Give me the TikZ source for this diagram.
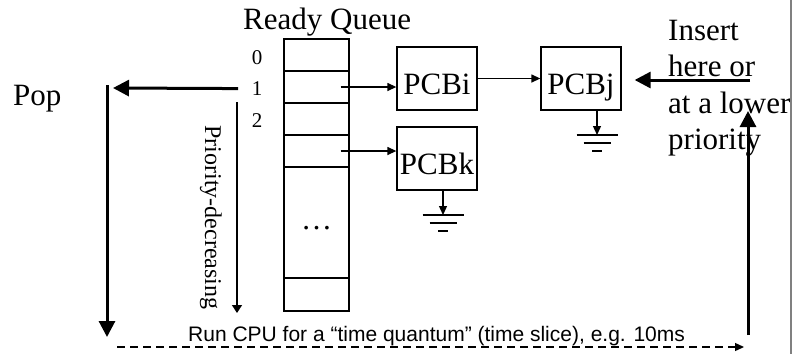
\documentclass[tikz,border=0pt]{standalone}
\usepackage{fontspec}
\setmainfont{Liberation Serif}
\setsansfont{Liberation Sans}
\usetikzlibrary{arrows.meta, positioning}

\begin{document}
\begin{tikzpicture}[
  x=1pt, y=-1pt,
  big/.style={font=\fontsize{31}{36}\selectfont, inner sep=0pt},
  num/.style={font=\fontsize{21}{24}\selectfont, inner sep=0pt, anchor=base},
  cell/.style={draw, line width=1.3pt, minimum width=65pt, inner sep=0pt},
  pcb/.style={draw, line width=1.3pt, minimum width=80pt, minimum height=63pt,
              inner sep=0pt, text height=31pt, text depth=0pt,
              font=\fontsize{31}{36}\selectfont},
  link/.style={line width=1.3pt, -{Triangle[length=9pt,width=8pt]}},
  fatarrow/.style={line width=3pt, -{Triangle[length=16pt,width=16pt]}},
  gnd/.style={line width=1.3pt},
]
\useasboundingbox (0,0) rectangle (794,354);

% ----- ready queue -----
\node[big, anchor=base west] (title) at (243,29) {Ready Queue};
\foreach \i in {0,...,3}
  \node[cell, minimum height=32pt] (q\i) at (316.5,55+32*\i) {};
\node[cell, minimum height=111pt] (q4) at (316.5,222.5) {};
\node[cell, minimum height=33pt] (q5) at (316.5,294.5) {};
\node[big, anchor=base] (dots) at (316.5,229) {…};
\foreach \d in {0,1,2}
  \node[num] (n\d) at (257,64+31.5*\d) {\d};

% ----- PCB chain -----
\node[pcb] (pcbi) at (437,78.5) {PCBi};
\node[pcb] (pcbj) at (581,78.5) {PCBj};
\node[pcb] (pcbk) at (437,158.5) {PCBk};
\draw[link] ([xshift=-9pt]q1.east) -- (q1.east -| pcbi.west);
\draw[link] ([xshift=-9pt]q3.east) -- (q3.east -| pcbk.west);
\draw[link] (pcbi.east) -- (pcbj.west);

\coordinate (gj) at (597,135);
\coordinate (gk) at (443,215);
\foreach \g/\b in {gj/pcbj, gk/pcbk} {
  \draw[link] (\b.south -| \g) -- (\g);
  \draw[gnd] ([xshift=-20.5pt]\g) -- ([xshift=20.5pt]\g)
             ([shift={(-13.5,8)}]\g) -- ([shift={(13.5,8)}]\g)
             ([shift={(-5,16)}]\g) -- ([shift={(5,16)}]\g);
}

% ----- pop side -----
\node[big, anchor=base west] (pop) at (13,105) {Pop};
\coordinate (popto) at (113,88);
\coordinate (downtop) at (107,85);
\coordinate (downend) at (107,337);
\draw[fatarrow] ([xshift=-13.5pt]n1.west) -- (popto);
\draw[fatarrow] (downtop) -- (downend);

\node[font=\fontsize{24}{28}\selectfont, rotate=-90, anchor=base, inner sep=0pt]
  (prio) at (205,217.5) {Priority-decreasing};
\coordinate (priotop) at (237,102);
\coordinate (prioend) at (237,313);
\draw[line width=1.3pt, -{Triangle[length=8pt,width=10pt]}] (priotop) -- (prioend);

% ----- time slice and insert -----
\node[font=\sffamily\fontsize{21}{24}\selectfont, anchor=base west, inner sep=0pt]
  (runcpu) at (188,341) {Run CPU for a “time quantum” (time slice), e.g. 10ms};
\coordinate (dashfrom) at (117,347);
\coordinate (dashto) at (744,347);
\draw[link, dash pattern=on 8pt off 5pt] (dashfrom) -- (dashto);

\foreach \t [count=\k] in {Insert, here or, at a lower, priority}
  \node[big, anchor=base west] (ins\k) at (668,3.5+36.5*\k) {\t};
\coordinate (upfrom) at (748,335);
\coordinate (upto) at (748,111);
\coordinate (insfrom) at (750,80);
\draw[fatarrow] (upfrom) -- (upto);
\draw[fatarrow] (insfrom) -- ([xshift=13pt]pcbj.east |- insfrom);

\draw[gray, line width=1.2pt] (791,0) -- (791,354);
\end{tikzpicture}
\end{document}
